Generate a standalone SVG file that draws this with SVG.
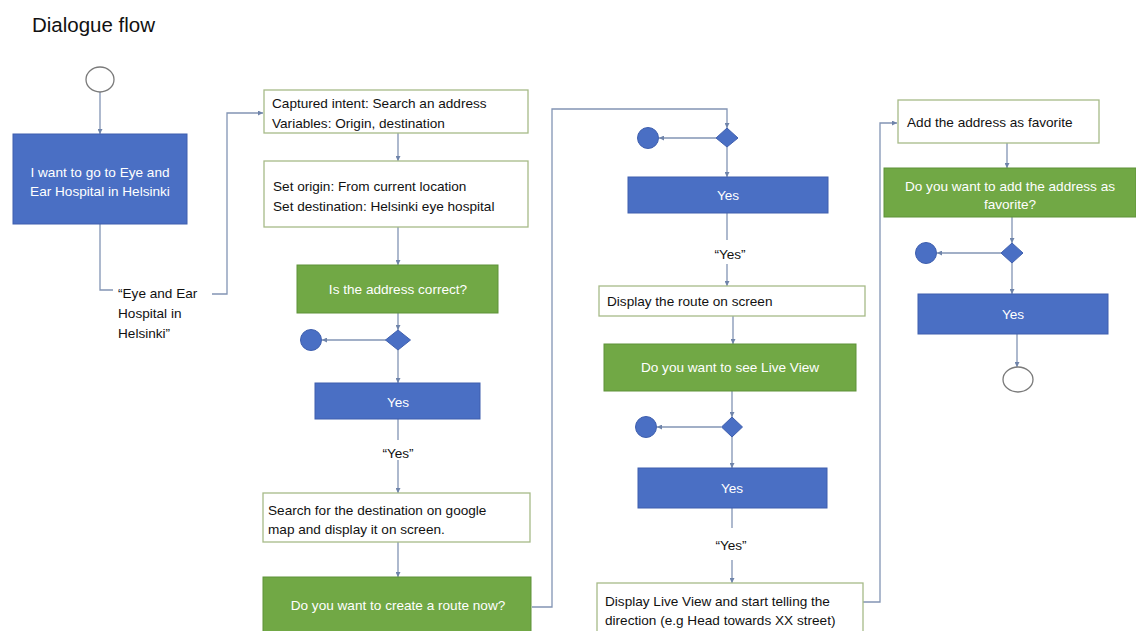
<svg xmlns="http://www.w3.org/2000/svg" width="1136" height="631" viewBox="0 0 1136 631">
<style>
.t{font-family:"Liberation Sans",Arial,sans-serif;font-size:13.6px;fill:#111}
.w{font-family:"Liberation Sans",Arial,sans-serif;font-size:13.6px;fill:#fff;text-anchor:middle}
.c{text-anchor:middle}
.blue{fill:#4A6FC4;stroke:#3F5FAE;stroke-width:1}
.green{fill:#71A845;stroke:#5E9238;stroke-width:1}
.white{fill:#fff;stroke:#A7BA88;stroke-width:1.3}
.term{fill:#fff;stroke:#7A7A7A;stroke-width:1.3}
.dot{fill:#4A6FC4;stroke:#3F5FAE}
.ln{fill:none;stroke:#8294B4;stroke-width:1.3}
.ar{fill:none;stroke:#8294B4;stroke-width:1.3;marker-end:url(#ah)}
</style>
<defs>
<marker id="ah" viewBox="0 0 10 10" refX="10" refY="5" markerWidth="5" markerHeight="5" orient="auto" markerUnits="userSpaceOnUse">
<path d="M0,0 L10,5 L0,10 z" fill="#6F84AA"/>
</marker>
</defs>
<rect width="1136" height="631" fill="#fff"/>
<text x="32" y="32" style="font-family:'Liberation Sans',Arial,sans-serif;font-size:20.5px;fill:#111">Dialogue flow</text>

<g id="connectors">
<path class="ar" d="M100,92 V134"/>
<path class="ln" d="M100,224 V290 H113"/>
<path class="ar" d="M212,294 H227 V113 H263"/>
<path class="ar" d="M398,133 V161"/>
<path class="ar" d="M398,227 V265"/>
<path class="ar" d="M398,313 V330"/>
<path class="ar" d="M386,340 H322"/>
<path class="ar" d="M398,350 V383"/>
<path class="ln" d="M398,419 V440"/>
<path class="ar" d="M398,460 V493"/>
<path class="ar" d="M398,542 V577"/>
<path class="ar" d="M532,607 H552 V109 H727 V128"/>
<path class="ar" d="M716,138 H659"/>
<path class="ar" d="M727,147 V177"/>
<path class="ln" d="M727,213 V240"/>
<path class="ar" d="M727,264 V286"/>
<path class="ar" d="M733,316 V344"/>
<path class="ar" d="M732,391 V417"/>
<path class="ar" d="M721,427 H657"/>
<path class="ar" d="M732,437 V468"/>
<path class="ln" d="M732,508 V528"/>
<path class="ar" d="M732,560 V583"/>
<path class="ar" d="M863,602 H880 V123 H897"/>
<path class="ar" d="M1007,143 V168"/>
<path class="ar" d="M1012,217 V243"/>
<path class="ar" d="M1001,253 H937"/>
<path class="ar" d="M1012,263 V294"/>
<path class="ar" d="M1017,334 V367"/>
</g>

<g id="start"><ellipse class="term" cx="100" cy="79.5" rx="14" ry="12.5"/></g>
<g id="n1">
<rect class="blue" x="13" y="134" width="174" height="90"/>
<text class="w" x="100" y="177">I want to go to Eye and</text>
<text class="w" x="100" y="196">Ear Hospital in Helsinki</text>
</g>
<g id="lbl1">
<text class="t" x="118" y="298">“Eye and Ear</text>
<text class="t" x="118" y="318">Hospital in</text>
<text class="t" x="118" y="338">Helsinki”</text>
</g>

<g id="n2">
<rect class="white" x="264" y="90" width="264" height="43"/>
<text class="t" x="272" y="108">Captured intent: Search an address</text>
<text class="t" x="272" y="128">Variables: Origin, destination</text>
</g>
<g id="n3">
<rect class="white" x="264" y="161" width="264" height="66"/>
<text class="t" x="273" y="191">Set origin: From current location</text>
<text class="t" x="273" y="211">Set destination: Helsinki eye hospital</text>
</g>
<g id="n4">
<rect class="green" x="297" y="265" width="201" height="48"/>
<text class="w" x="398" y="294">Is the address correct?</text>
</g>
<g id="d1"><path class="dot" d="M398,330 L410.5,340 L398,350 L385.5,340 z"/></g>
<g id="e1"><circle class="dot" cx="311" cy="340" r="10.5"/></g>
<g id="n5">
<rect class="blue" x="315" y="383" width="165" height="36"/>
<text class="w" x="398" y="407">Yes</text>
</g>
<g id="lbl2"><text class="t c" x="398" y="458">“Yes”</text></g>
<g id="n6">
<rect class="white" x="263" y="493" width="267" height="49"/>
<text class="t" x="268" y="515">Search for the destination on google</text>
<text class="t" x="268" y="534">map and display it on screen.</text>
</g>
<g id="n7">
<rect class="green" x="263" y="577" width="268" height="60"/>
<text class="w" x="398" y="610">Do you want to create a route now?</text>
</g>

<g id="d2"><path class="dot" d="M727,128 L738,138 L727,147 L716,138 z"/></g>
<g id="e2"><circle class="dot" cx="648" cy="138" r="10.5"/></g>
<g id="n8">
<rect class="blue" x="628" y="177" width="200" height="36"/>
<text class="w" x="728" y="200">Yes</text>
</g>
<g id="lbl3"><text class="t c" x="730" y="259">“Yes”</text></g>
<g id="n9">
<rect class="white" x="599" y="286" width="266" height="30"/>
<text class="t" x="607" y="306">Display the route on screen</text>
</g>
<g id="n10">
<rect class="green" x="604" y="344" width="252" height="47"/>
<text class="w" x="730" y="372">Do you want to see Live View</text>
</g>
<g id="d3"><path class="dot" d="M732,417 L742.5,427 L732,437 L721.5,427 z"/></g>
<g id="e3"><circle class="dot" cx="646" cy="427" r="10.5"/></g>
<g id="n11">
<rect class="blue" x="638" y="468" width="189" height="40"/>
<text class="w" x="732" y="493">Yes</text>
</g>
<g id="lbl4"><text class="t c" x="731" y="550">“Yes”</text></g>
<g id="n12">
<rect class="white" x="597" y="583" width="266" height="55"/>
<text class="t" x="605" y="606">Display Live View and start telling the</text>
<text class="t" x="605" y="625">direction (e.g Head towards XX street)</text>
</g>

<g id="n13">
<rect class="white" x="898" y="100" width="201" height="43"/>
<text class="t" x="907" y="127">Add the address as favorite</text>
</g>
<g id="n14">
<rect class="green" x="884" y="168" width="252" height="49"/>
<text class="w" x="1010" y="191">Do you want to add the address as</text>
<text class="w" x="1010" y="209">favorite?</text>
</g>
<g id="d4"><path class="dot" d="M1012,243 L1023,253 L1012,263 L1001,253 z"/></g>
<g id="e4"><circle class="dot" cx="926" cy="253" r="10.5"/></g>
<g id="n15">
<rect class="blue" x="918" y="294" width="190" height="40"/>
<text class="w" x="1013" y="319">Yes</text>
</g>
<g id="end"><ellipse class="term" cx="1018" cy="379.5" rx="15" ry="12.5"/></g>
</svg>
